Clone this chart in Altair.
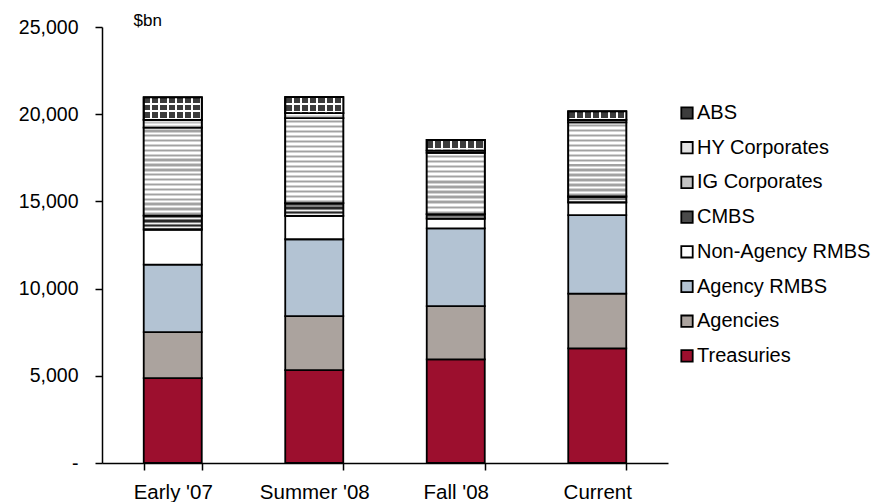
import altair as alt
import pandas as pd

# Stacked fixed-income market size by sector, $bn
periods = ["Early '07", "Summer '08", "Fall '08", "Current"]

treasuries = [4870, 5320, 5940, 6570]
agencies = [2640, 3100, 3060, 3140]
agency_rmbs = [3870, 4410, 4450, 4500]
non_agency_rmbs = [2010, 1340, 570, 730]
cmbs = [800, 730, 250, 340]
ig_corporates = [5040, 4870, 3510, 4250]
hy_corporates = [440, 290, 130, 150]
abs_values = [1290, 920, 610, 480]

# bottom-to-top stacking order
series_names = ["Treasuries", "Agencies", "Agency RMBS", "Non-Agency RMBS",
                "CMBS", "IG Corporates", "HY Corporates", "ABS"]
series_values = [treasuries, agencies, agency_rmbs, non_agency_rmbs,
                 cmbs, ig_corporates, hy_corporates, abs_values]
series_colors = ["#9c0f2e", "#aba39e", "#b3c3d3", "#ffffff",
                 "#4a4a4a", "#c4c4c4", "#e2e2e2", "#3c3c3c"]

rows = []
for order, (name, vals) in enumerate(zip(series_names, series_values)):
    for p, v in zip(periods, vals):
        rows.append({"period": p, "series": name, "order": order, "value": v})
df = pd.DataFrame(rows)

FONT = "Liberation Sans"
W, H = 566, 436
Y_MAX = 25000
PX_PER_UNIT = H / Y_MAX

legend_order = series_names[::-1]
legend_colors = series_colors[::-1]

base = alt.Chart(df).transform_stack(
    stack="value", groupby=["period"], as_=["y0", "y1"],
    sort=[alt.SortField("order", order="ascending")],
)

x_enc = alt.X(
    "period:N", sort=periods, title=None,
    scale=alt.Scale(paddingInner=0.59, paddingOuter=0.295),
    axis=alt.Axis(tickBand="extent", labelAngle=0, tickSize=7, labelPadding=12,
                  domainColor="black", tickColor="black", domainWidth=1.5,
                  tickWidth=1.5, labelFontSize=20.5, labelFont=FONT,
                  labelColor="black"),
)
y_enc = alt.Y(
    "y0:Q", scale=alt.Scale(domain=[0, Y_MAX], nice=False),
    axis=alt.Axis(values=[0, 5000, 10000, 15000, 20000, 25000], grid=False,
                  tickSize=7, labelPadding=17, domainColor="black",
                  tickColor="black", domainWidth=1.5, tickWidth=1.5,
                  labelFontSize=19.5, labelFont=FONT, labelColor="black",
                  labelExpr="datum.value == 0 ? '-\u00a0\u00a0\u00a0' : format(datum.value, ',')",
                  title="$bn", titleAngle=0, titleAlign="left",
                  titleBaseline="alphabetic", titleX=31, titleY=-2,
                  titleFontSize=17, titleFontWeight="normal", titleFont=FONT,
                  titleColor="black"),
)

bars = base.mark_bar(stroke="black", strokeWidth=1.8).encode(
    x=x_enc,
    y=y_enc,
    y2="y1:Q",
    fill=alt.Fill(
        "series:N",
        scale=alt.Scale(domain=legend_order, range=legend_colors),
        legend=alt.Legend(
            orient="none", legendX=575, legendY=76, title=None,
            symbolType="square", symbolSize=130, symbolStrokeColor="black",
            symbolStrokeWidth=1.8, symbolOpacity=1, labelFontSize=20,
            labelFont=FONT, labelColor="black", rowPadding=14.7, padding=0,
            labelOffset=0, labelLimit=300,
        ),
    ),
)


def striped(pattern, n, horizontal_lines=True):
    """Linear gradient repeating a (color, width) pattern n times."""
    total = sum(w for _, w in pattern) * n
    stops, pos = [], 0.0
    for _ in range(n):
        for color, w in pattern:
            stops.append({"offset": pos / total, "color": color})
            pos += w
            stops.append({"offset": pos / total, "color": color})
    grad = {"gradient": "linear", "stops": stops}
    if horizontal_lines:
        grad.update({"x1": 0, "y1": 0, "x2": 0, "y2": 1})
    else:
        grad.update({"x1": 0, "y1": 0, "x2": 1, "y2": 0})
    return grad


patterns = {
    "CMBS": [("#262626", 1.5), ("#808080", 1.0), ("#f0f0f0", 1.0), ("#808080", 1.0)],
    "IG Corporates": [("#ffffff", 1.6), ("#d2d2d2", 1.0), ("#a2a2a2", 1.4), ("#d2d2d2", 1.0)],
    "HY Corporates": [("#ffffff", 2.0), ("#dadada", 1.0), ("#bdbdbd", 1.0), ("#dadada", 1.0)],
    "ABS": [("#3c3c3c", 5.5), ("#ffffff", 2.0)],
}
abs_columns_overlay = [("rgba(255,255,255,0)", 6.3), ("#ffffff", 2.0)]

layers = [bars]
for name, pat in patterns.items():
    vals = series_values[series_names.index(name)]
    period_len = sum(w for _, w in pat)
    for p, v in zip(periods, vals):
        n = max(1, round(v * PX_PER_UNIT / period_len))
        seg = base.transform_filter(
            alt.FieldEqualPredicate(field="series", equal=name)
        ).transform_filter(
            alt.FieldEqualPredicate(field="period", equal=p)
        )
        layers.append(
            seg.mark_bar(stroke="black", strokeWidth=1.8).encode(
                x=x_enc, y=y_enc, y2="y1:Q",
                fill=alt.value(striped(pat, n)),
            )
        )
        if name == "ABS":
            layers.append(
                seg.mark_bar(stroke="black", strokeWidth=1.8).encode(
                    x=x_enc, y=y_enc, y2="y1:Q",
                    fill=alt.value(striped(abs_columns_overlay, 7, horizontal_lines=False)),
                )
            )

chart = alt.layer(*layers).properties(
    width=W, height=H,
    autosize=alt.AutoSizeParams(type="none"),
    padding={"left": 102, "top": 27, "right": 206, "bottom": 39},
    background="white",
).configure_view(stroke=None)

chart.save("out.html", embed_options={"renderer": "svg", "actions": False})
